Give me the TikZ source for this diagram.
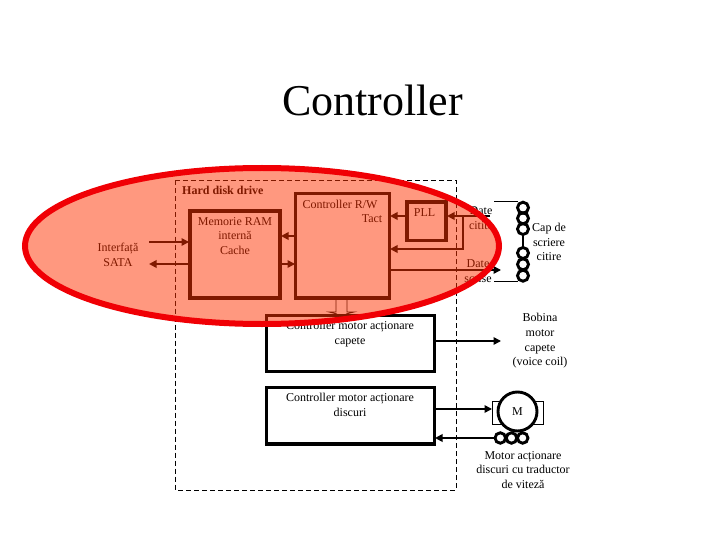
\documentclass[tikz,border=0pt]{standalone}
\usepackage{fontspec}
\setmainfont{Liberation Serif}
\usetikzlibrary{arrows.meta}
\tikzset{
 box/.style={draw=black,line width=3.2pt,fill=none,inner sep=0pt,outer sep=0pt,anchor=north west},
 lbl/.style={font=\fontsize{12}{14.6}\selectfont,align=center,inner sep=0pt,text=black},
 arr/.style={line width=1.7pt,-{Triangle[length=7.5pt,width=7.5pt]}},
 coil/.style={draw=black,line width=2.9pt,circle,minimum size=11pt,inner sep=0pt,outer sep=0pt},
 thin/.style={line width=0.9pt},
}
\definecolor{veil}{RGB}{255,50,0}
\definecolor{ring}{RGB}{240,0,5}
\begin{document}
\begin{tikzpicture}[x=1pt,y=-1pt]
\useasboundingbox (0,0) rectangle (720,540);
\fill[white] (0,0) rectangle (720,540);
\node[lbl,font=\fontsize{44}{50}\selectfont] (title) at (372.5,100) {Controller};
\draw[dash pattern=on 5pt off 3pt,line width=0.9pt] (175.5,180.5) rectangle (456,490);
\node[lbl,font=\fontsize{12}{14}\selectfont\bfseries,anchor=west] (hdd) at (182,190.5) {Hard disk drive};
\node[lbl] (sata) at (118,255) {Interfață\\SATA};
\node[box,minimum width=90pt,minimum height=87pt] (ram) at (190,211) {};
\node[lbl] (ramt) at (235,236) {Memorie RAM\\internă\\Cache};
\node[box,minimum width=93.5pt,minimum height=104.5pt] (rw) at (295.7,193.5) {};
\node[lbl] (rwt) at (340,204) {Controller R/W};
\node[lbl] (tact) at (372,219) {Tact};
\node[box,minimum width=39pt,minimum height=38.7pt] (pll) at (407,202) {};
\node[lbl] (plltext) at (424.5,212.5) {PLL};
\node[box,minimum width=167.8pt,minimum height=55.8pt] (mh) at (266.7,315.7) {};
\node[lbl] (mht) at (350,334) {Controller motor acționare\\capete};
\node[box,minimum width=167.8pt,minimum height=56.3pt] (md) at (266.7,387.7) {};
\node[lbl] (mdt) at (350,405) {Controller motor acționare\\discuri};
% head
\foreach \n/\y in {a/207.7,b/218.3,c/229,d/253,e/264.3,f/275.7}{\node[coil] (h\n) at (523,\y) {};}
\draw[line width=2.2pt] (hc) -- (hd);
\coordinate (ta) at (494,201.5); \coordinate (tb) at (518,201.5);
\coordinate (ba) at (494,281.5); \coordinate (bb) at (518,281.5);
\draw[thin] (ta) -- (tb); \draw[thin] (ba) -- (bb);
\node[lbl] (dc) at (481,218) {Date\\citite};
\node[lbl] (ds) at (478,271) {Date\\scrise};
\node[lbl] (cap) at (549,242) {Cap de\\scriere\\citire};
\node[lbl] (bob) at (540,341) {Bobina\\motor\\capete\\(voice coil)};
\node[lbl] (mot) at (523,470) {Motor acționare\\discuri cu traductor\\de viteză};
% motor
\node[draw=black,line width=0.8pt,minimum width=51pt,minimum height=23pt,inner sep=0pt,outer sep=0pt] (stator) at (517.5,412.5) {};
\node[circle,draw=black,fill=white,line width=2.9pt,minimum size=39pt,inner sep=0pt,outer sep=0pt,font=\fontsize{12}{14}\selectfont] (motor) at (517.5,411.5) {M};
\node[coil,minimum size=10.5pt] (s1) at (500.3,438) {};
\node[coil,minimum size=10.5pt] (s2) at (511.5,438) {};
\node[coil,minimum size=10.5pt] (s3) at (522.7,438) {};
% arrows
\coordinate (sin) at (149,242); \coordinate (sinb) at (189,242);
\coordinate (sout) at (149,264); \coordinate (soutb) at (189,264);
\draw[arr] (sin) -- (sinb);
\draw[arr] (soutb) -- (sout);
\coordinate (rwa) at (295,236); \coordinate (rama) at (281,236);
\coordinate (rwb) at (281,264); \coordinate (ramb) at (295,264);
\draw[arr] (rwa) -- (rama);
\draw[arr] (rwb) -- (ramb);
\coordinate (pllw) at (406,216); \coordinate (rwp) at (390,216);
\draw[arr] (pllw) -- (rwp);
\coordinate (in) at (490,216); \coordinate (pllE) at (447,216);
\draw[arr] (in) -- (pllE);
\coordinate (jn) at (463,216); \coordinate (jb) at (463,249); \coordinate (rwj) at (390,249);
\draw[arr] (jn) -- (jb) -- (rwj);
\coordinate (rwo) at (390,270); \coordinate (oe) at (501,270);
\draw[arr] (rwo) -- (oe);
\coordinate (ma) at (435,341); \coordinate (mb) at (501,341);
\draw[arr] (ma) -- (mb);
\coordinate (da) at (435,409) ; \coordinate (db) at (497,409);
\draw[arr,shorten >=5pt] (da) -- (db);
\coordinate (dc1) at (494,438); \coordinate (dc2) at (435,438);
\draw[arr] (dc1) -- (dc2);
% hollow link
\draw[line width=0.8pt] (336,299) -- (336,312) -- (329,312) -- (337,314);
\draw[line width=0.8pt] (347,299) -- (347,312) -- (354,312) -- (346,314);
% overlay
\path[fill=veil,fill opacity=0.5] (262,246) ellipse [x radius=237,y radius=78];
\draw[ring,line width=6pt] (262,246) ellipse [x radius=237,y radius=78];
\end{tikzpicture}
\end{document}
